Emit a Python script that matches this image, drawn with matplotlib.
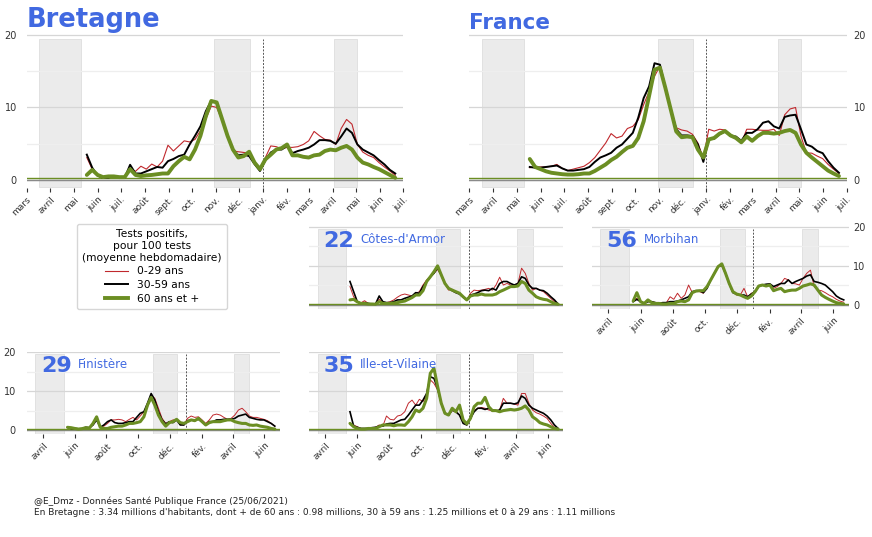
"""Taux de positivité par classe d'âge - Bretagne, France et départements bretons."""

import matplotlib

matplotlib.use("Agg")

import pandas as pd  # noqa: E402
from matplotlib import pyplot as plt  # noqa: E402
from matplotlib.lines import Line2D  # noqa: E402

# semaines (moyenne glissante lue toutes les 7 jours)
weeks = pd.date_range("2020-05-18", periods=58, freq="7D")

bretagne_0_29 = [3.1, 1.5, 0.6, 0.3, 0.35, 0.55, 0.4, 0.3, 1.5, 1.2, 1.9, 1.5, 2.2, 1.8, 2.6, 4.8, 4.0, 4.7, 5.4, 5.25,
                 5.6, 6.8, 8.4, 10.2, 10.0, 8.2, 6.1, 4.0, 3.9, 3.8, 3.7, 2.3, 1.3, 3.1, 4.7, 4.6, 4.3, 4.5, 4.5, 4.6,
                 4.9, 5.4, 6.7, 6.1, 5.6, 5.5, 4.9, 7.1, 8.35, 7.7, 4.9, 3.85, 3.4, 3.1, 2.4, 1.8, 1.25, 0.65]
bretagne_30_59 = [3.5, 1.7, 0.6, 0.3, 0.35, 0.55, 0.4, 0.3, 2.1, 0.9, 0.9, 1.2, 1.5, 1.8, 1.7, 2.6, 2.9, 3.3, 3.5, 4.9,
                  6.1, 7.4, 9.5, 10.9, 10.7, 8.4, 6.1, 4.2, 3.4, 3.5, 3.3, 2.2, 1.25, 2.75, 3.8, 4.2, 4.2, 4.7, 3.7, 4.0,
                  4.2, 4.45, 4.9, 5.5, 5.5, 5.4, 5.0, 6.0, 7.1, 6.5, 4.9, 4.2, 3.8, 3.4, 2.75, 2.15, 1.4, 0.9]
bretagne_60 = [0.7, 1.4, 0.7, 0.4, 0.5, 0.5, 0.4, 0.4, 1.5, 0.7, 0.55, 0.65, 0.7, 0.8, 0.9, 0.9, 1.9, 2.6, 3.2, 2.85,
               4.2, 6.1, 8.8, 10.9, 10.7, 8.4, 6.1, 4.2, 3.1, 3.3, 3.9, 2.4, 1.5, 2.85, 3.5, 4.2, 4.4, 4.9, 3.4, 3.4,
               3.2, 3.1, 3.4, 3.5, 4.0, 4.2, 4.1, 4.45, 4.7, 4.2, 3.1, 2.4, 2.15, 1.8, 1.5, 1.1, 0.7, 0.3]

france_0_29 = [1.7, 1.8, 1.8, 1.8, 1.9, 2.15, 1.6, 1.3, 1.5, 1.7, 1.9, 2.4, 3.1, 4.1, 5.1, 6.4, 5.8, 6.05, 7.1, 7.4,
               8.3, 10.4, 12.2, 14.3, 15.7, 12.5, 9.9, 7.2, 6.9, 6.75, 6.3, 5.1, 3.0, 7.0, 6.75, 7.0, 6.9, 6.3, 5.8, 5.1,
               7.0, 7.0, 6.9, 6.85, 6.85, 7.0, 6.15, 9.0, 9.8, 10.0, 6.05, 3.75, 3.7, 3.3, 2.95, 2.15, 1.5, 0.9]
france_30_59 = [1.8, 1.7, 1.7, 1.8, 1.9, 2.0, 1.6, 1.3, 1.3, 1.4, 1.5, 1.8, 2.5, 3.1, 3.4, 3.75, 4.45, 4.9, 5.7, 6.5,
                8.6, 11.3, 12.9, 16.1, 15.9, 12.7, 9.7, 7.0, 6.15, 6.15, 6.05, 4.9, 2.5, 5.6, 5.7, 6.3, 6.75, 6.05, 6.0,
                5.4, 6.5, 6.5, 7.0, 7.9, 8.1, 7.4, 7.1, 8.7, 8.9, 9.0, 7.0, 4.9, 4.6, 4.0, 3.7, 2.6, 1.7, 1.0]
france_60 = [2.9, 1.8, 1.5, 1.2, 1.0, 0.9, 0.8, 0.75, 0.75, 0.8, 0.9, 0.9, 1.25, 1.7, 2.15, 2.75, 3.2, 3.85, 4.45, 4.7,
             5.8, 8.1, 11.6, 15.2, 15.5, 12.7, 9.7, 6.7, 5.9, 6.0, 5.9, 4.2, 3.1, 5.6, 5.8, 6.4, 6.75, 6.15, 5.8, 5.2,
             6.0, 5.4, 6.05, 6.5, 6.5, 6.4, 6.5, 6.75, 6.9, 6.5, 4.9, 3.75, 3.1, 2.5, 1.9, 1.3, 0.9, 0.55]

dep22_0_29 = [4.7, 2.1, 0.85, 0.55, 1.1, 0.4, 0.3, 0.25, 1.45, 0.55, 0.6, 0.85, 1.3, 2.0, 2.55, 2.8, 2.55, 2.3, 3.0, 3.4,
              5.1, 6.4, 7.2, 8.1, 9.1, 7.5, 5.5, 3.8, 4.0, 3.4, 3.0, 2.0, 1.3, 3.0, 3.8, 3.65, 3.8, 4.0, 4.25, 3.8,
              5.1, 7.1, 5.1, 5.5, 5.1, 5.1, 5.5, 9.4, 8.1, 5.5, 3.8, 4.25, 3.8, 3.4, 2.55, 1.7, 0.85, 0.25]
dep22_30_59 = [6.0, 3.4, 0.85, 0.4, 0.6, 0.4, 0.25, 0.25, 2.3, 0.85, 0.6, 0.6, 0.85, 1.3, 1.3, 1.7, 2.0, 2.3, 3.15, 3.0,
               4.7, 6.0, 7.2, 8.1, 9.5, 7.7, 5.5, 4.25, 3.65, 3.15, 2.8, 2.0, 1.3, 2.55, 2.8, 3.15, 3.65, 3.8, 3.65,
               4.25, 3.8, 5.5, 6.0, 6.0, 5.5, 5.1, 5.5, 7.2, 6.8, 5.1, 4.25, 4.25, 3.8, 3.65, 3.0, 2.1, 1.3, 0.25]
dep22_60 = [1.3, 1.45, 0.8, 0.4, 0.4, 0.25, 0.25, 0.2, 0.85, 0.4, 0.4, 0.4, 0.5, 0.6, 0.85, 1.0, 1.45, 1.9, 2.55, 2.55,
            3.65, 6.0, 7.2, 8.5, 10.0, 7.7, 5.5, 4.25, 3.8, 3.4, 3.0, 2.1, 1.3, 2.3, 2.55, 2.55, 2.8, 2.55, 2.55, 2.55,
            2.8, 3.4, 3.8, 4.25, 4.7, 4.7, 4.85, 6.0, 5.5, 3.8, 3.0, 2.1, 1.7, 1.45, 1.3, 0.85, 0.4, 0.2]

dep56_0_29 = [1.0, 1.7, 0.85, 0.4, 1.1, 0.85, 0.6, 0.4, 0.6, 0.6, 2.1, 1.45, 3.0, 1.7, 2.55, 5.1, 3.15, 3.65, 3.4, 3.0,
              4.7, 6.4, 8.1, 9.8, 10.0, 8.1, 5.5, 3.4, 2.55, 2.55, 4.25, 2.1, 3.0, 3.4, 4.85, 5.1, 5.1, 5.1, 4.25, 4.7,
              5.5, 6.8, 6.4, 5.5, 5.4, 5.1, 6.8, 8.1, 8.9, 4.7, 3.8, 3.65, 3.15, 2.55, 2.1, 1.45, 1.0, 0.7]
dep56_30_59 = [0.85, 1.45, 0.85, 0.4, 0.85, 0.85, 0.6, 0.4, 0.6, 0.6, 0.85, 0.85, 1.0, 1.3, 1.7, 2.1, 3.4, 3.65, 3.65,
               3.15, 4.25, 6.4, 8.1, 9.8, 10.2, 8.1, 5.5, 3.15, 2.8, 2.55, 2.55, 2.1, 2.8, 3.4, 4.85, 5.1, 5.3, 5.4,
               4.7, 5.1, 5.5, 5.5, 6.4, 5.5, 6.0, 6.4, 6.8, 7.4, 7.7, 6.0, 5.8, 5.5, 5.1, 4.25, 3.4, 2.3, 1.7, 1.3]
dep56_60 = [1.0, 3.15, 0.85, 0.4, 1.3, 0.6, 0.4, 0.4, 0.25, 0.25, 0.4, 0.4, 0.85, 1.0, 0.85, 1.3, 3.15, 3.55, 3.65, 3.65,
            4.7, 6.4, 8.1, 9.8, 10.5, 8.1, 5.5, 3.4, 2.8, 2.55, 2.1, 1.7, 2.3, 3.4, 4.85, 5.1, 4.85, 5.1, 3.65, 4.0,
            4.25, 3.4, 3.65, 3.8, 3.8, 4.25, 4.85, 5.1, 5.4, 5.1, 3.8, 2.55, 1.95, 1.45, 1.0, 0.6, 0.4, 0.25]

dep29_0_29 = [0.7, 0.4, 0.4, 0.3, 0.35, 0.7, 0.6, 1.3, 3.0, 0.85, 1.0, 1.7, 2.6, 2.6, 2.75, 2.6, 2.15, 2.75, 3.25, 2.6,
              3.6, 4.7, 6.0, 9.0, 8.15, 5.6, 3.0, 1.7, 2.15, 2.6, 2.6, 1.55, 1.3, 3.0, 3.6, 3.25, 3.4, 2.6, 1.7, 2.6,
              3.85, 4.1, 3.85, 3.25, 2.75, 3.0, 3.85, 5.15, 5.6, 4.7, 3.6, 3.25, 3.25, 3.0, 2.75, 2.4, 1.7, 1.0]
dep29_30_59 = [0.7, 0.4, 0.4, 0.3, 0.35, 0.7, 0.6, 1.3, 2.6, 0.7, 1.3, 2.15, 2.6, 1.9, 1.7, 1.7, 1.9, 2.15, 2.15, 3.25,
               4.3, 4.7, 6.9, 9.4, 7.7, 4.7, 2.6, 1.55, 2.15, 1.9, 2.6, 1.3, 1.3, 2.4, 2.6, 2.6, 2.75, 2.15, 1.3, 2.15,
               2.15, 2.6, 2.6, 2.75, 2.75, 2.75, 3.0, 3.6, 3.85, 4.1, 3.25, 3.0, 2.75, 2.6, 2.6, 2.15, 1.7, 1.0]
dep29_60 = [0.7, 0.6, 0.4, 0.25, 0.35, 0.6, 0.5, 1.7, 3.4, 0.7, 0.4, 0.4, 0.7, 0.85, 1.0, 1.0, 1.3, 1.7, 1.7, 1.9,
            2.15, 3.4, 6.4, 8.4, 6.4, 3.85, 2.15, 1.0, 1.9, 2.15, 2.75, 1.9, 1.7, 2.15, 2.6, 2.4, 3.0, 2.15, 1.3, 1.9,
            2.15, 2.15, 2.15, 2.4, 2.6, 2.6, 2.15, 1.9, 1.7, 1.7, 1.3, 1.2, 1.3, 1.0, 0.85, 0.7, 0.4, 0.25]

dep35_0_29 = [1.7, 1.3, 0.85, 0.4, 0.4, 0.4, 0.6, 0.7, 1.3, 1.0, 3.6, 2.75, 2.6, 3.6, 3.85, 4.7, 6.9, 7.7, 6.4, 7.9,
              7.3, 9.0, 12.9, 12.0, 10.3, 6.9, 4.5, 3.85, 5.0, 4.7, 3.85, 1.9, 1.3, 3.0, 5.0, 5.6, 5.8, 5.6, 5.15, 4.9,
              4.9, 5.15, 8.15, 6.9, 6.9, 6.7, 6.4, 9.4, 9.4, 6.9, 5.15, 4.45, 4.1, 3.6, 3.0, 1.7, 0.7, 0.25]
dep35_30_59 = [4.7, 1.0, 0.7, 0.4, 0.4, 0.4, 0.6, 0.7, 1.0, 1.0, 1.55, 1.7, 1.7, 2.15, 2.6, 2.75, 3.85, 5.15, 6.4, 6.4,
               7.7, 9.4, 13.7, 13.3, 10.7, 6.9, 4.3, 3.85, 5.15, 4.7, 3.85, 1.7, 1.3, 3.0, 4.7, 5.6, 5.6, 5.3, 5.6,
               5.15, 4.9, 5.15, 6.9, 6.9, 6.9, 6.7, 7.0, 8.75, 8.15, 6.4, 5.6, 5.15, 4.7, 4.3, 3.6, 2.6, 1.3, 0.4]
dep35_60 = [1.7, 0.85, 0.4, 0.25, 0.25, 0.4, 0.4, 0.4, 0.85, 1.3, 1.3, 1.3, 1.1, 1.3, 1.3, 1.2, 2.15, 3.4, 5.15, 4.7,
            5.6, 8.15, 14.6, 15.9, 11.2, 6.9, 4.3, 3.85, 5.6, 4.7, 6.4, 2.6, 1.6, 3.0, 6.0, 6.9, 6.9, 8.4, 6.0, 5.0,
            5.0, 4.7, 5.0, 5.15, 5.3, 5.15, 5.3, 5.6, 6.2, 5.15, 3.4, 2.75, 1.9, 1.55, 1.3, 0.85, 0.4, 0.25]

# confinements et repère du 1er janvier
confinements = [("2020-03-17", "2020-05-11"), ("2020-10-30", "2020-12-15"), ("2021-04-03", "2021-05-03")]
new_year = "2021-01-01"

month_ticks = pd.date_range("2020-03-01", "2021-07-01", freq="MS")
month_labels = ["mars", "avril", "mai", "juin", "juil.", "août", "sept.", "oct.", "nov.", "déc.",
                "janv.", "fév.", "mars", "avril", "mai", "juin", "juil."]
dep_ticks = pd.date_range("2020-04-01", "2021-06-01", freq="2MS")
dep_labels = ["avril", "juin", "août", "oct.", "déc.", "fév.", "avril", "juin"]

FIG_W, FIG_H = 872, 537
BLUE = "#4169e1"
RED = "#c0282d"
GREEN = "#6b8e23"
Y_LOW, Y_HIGH = -1.1, 20.2


def _rect(left: float, top: float, right: float, bottom: float) -> list[float]:
    return [left / FIG_W, 1 - bottom / FIG_H, (right - left) / FIG_W, (bottom - top) / FIG_H]


def _frac(value: float) -> float:
    return (value - Y_LOW) / (Y_HIGH - Y_LOW)


def _panel(fig, rect, series, big=True, ylab=None, ticks=None, labels=None):
    ax = fig.add_axes(rect)
    ax.set_xlim(pd.Timestamp("2020-03-01"), pd.Timestamp("2021-07-01"))
    ax.set_ylim(Y_LOW, Y_HIGH)
    for start, end in confinements:
        ax.axvspan(pd.Timestamp(start), pd.Timestamp(end), ymin=_frac(-1), ymax=_frac(19.5),
                   facecolor="#ebebeb", edgecolor="#dedede", lw=0.6, zorder=0)
    ax.axvline(pd.Timestamp(new_year), ymin=_frac(-1), ymax=_frac(19.5), color="#555555",
               lw=0.7, ls=(0, (2, 1.5)), zorder=1)
    ax.axhline(0, color="#8a8a8a", lw=1.0, zorder=1.5)
    ax.axhline(0.3, color=GREEN, lw=1.0, zorder=1.6)

    widths = (0.8, 1.4, 2.8) if big else (0.7, 1.2, 2.2)
    red, black, green = series
    ax.plot(weeks, red, color=RED, lw=widths[0], zorder=3)
    ax.plot(weeks, black, color="black", lw=widths[1], zorder=4)
    ax.plot(weeks, green, color=GREEN, lw=widths[2], zorder=5, solid_capstyle="round")

    ax.set_yticks([0, 10, 20])
    ax.set_yticks([5, 15], minor=True)
    ax.grid(axis="y", which="major", color="#d6d6d6", lw=0.9, zorder=0)
    ax.grid(axis="y", which="minor", color="#eeeeee", lw=0.9, zorder=0)
    ax.set_axisbelow(True)
    for spine in ax.spines.values():
        spine.set_visible(False)
    ax.tick_params(axis="y", which="both", length=0, labelsize=7, labelcolor="#333333")
    if ylab == "left":
        ax.tick_params(axis="y", pad=7 if big else 8)
    elif ylab == "right":
        ax.yaxis.tick_right()
        ax.tick_params(axis="y", pad=5 if big else 3)
    else:
        ax.tick_params(axis="y", labelleft=False)

    if ticks is None:
        ax.set_xticks([])
    else:
        ax.set_xticks(ticks)
        ax.set_xticklabels(labels, rotation=45, ha="right", rotation_mode="anchor", fontsize=6.5,
                           color="#333333")
        ax.tick_params(axis="x", length=3, width=0.8, color="#333333", pad=2)
    return ax


def _dep_title(ax, number: str, name: str) -> None:
    ax.text(0.055, 0.75, number, transform=ax.transAxes, fontsize=16, weight="bold", color=BLUE,
            va="baseline", zorder=6)
    ax.text(0.2, 0.8, name, transform=ax.transAxes, fontsize=8.5, color=BLUE, va="baseline", zorder=6)


fig = plt.figure(figsize=(FIG_W / 100, FIG_H / 100), dpi=100)

ax_bzh = _panel(fig, _rect(26.5, 33.5, 403, 188), (bretagne_0_29, bretagne_30_59, bretagne_60),
                ylab="left", ticks=month_ticks, labels=month_labels)
ax_bzh.text(0, 1.042, "Bretagne", transform=ax_bzh.transAxes, fontsize=18.5, weight="bold", color=BLUE,
            va="baseline")

ax_fr = _panel(fig, _rect(469.3, 33.5, 846.7, 188), (france_0_29, france_30_59, france_60),
               ylab="right", ticks=month_ticks, labels=month_labels)
ax_fr.text(0, 1.027, "France", transform=ax_fr.transAxes, fontsize=15.5, weight="bold", color=BLUE,
           va="baseline")

ax22 = _panel(fig, _rect(309.3, 225.9, 563.3, 309.3), (dep22_0_29, dep22_30_59, dep22_60), big=False)
_dep_title(ax22, "22", "Côtes-d'Armor")
ax56 = _panel(fig, _rect(592, 225.9, 849, 309.3), (dep56_0_29, dep56_30_59, dep56_60), big=False,
              ylab="right", ticks=dep_ticks, labels=dep_labels)
_dep_title(ax56, "56", "Morbihan")
ax29 = _panel(fig, _rect(27, 351.5, 280, 434.3), (dep29_0_29, dep29_30_59, dep29_60), big=False,
              ylab="left", ticks=dep_ticks, labels=dep_labels)
_dep_title(ax29, "29", "Finistère")
ax35 = _panel(fig, _rect(309.3, 351.5, 563.3, 434.3), (dep35_0_29, dep35_30_59, dep35_60), big=False,
              ticks=dep_ticks, labels=dep_labels)
_dep_title(ax35, "35", "Ille-et-Vilaine")

handles = [
    Line2D([], [], color=RED, lw=0.8),
    Line2D([], [], color="black", lw=1.4),
    Line2D([], [], color=GREEN, lw=2.8),
]
legend = fig.legend(handles, ["0-29 ans", "30-59 ans", "60 ans et +"],
                    title="Tests positifs,\npour 100 tests\n(moyenne hebdomadaire)",
                    loc="upper left", bbox_to_anchor=(77 / FIG_W, 1 - 224 / FIG_H), borderaxespad=0,
                    fontsize=7.7, title_fontsize=7.7, handlelength=2.2, labelspacing=0.35,
                    frameon=True, edgecolor="#cccccc", fancybox=True, borderpad=0.5)
legend.get_title().set_multialignment("center")

fig.text(34 / FIG_W, 1 - 497 / FIG_H,
         "@E_Dmz - Données Santé Publique France (25/06/2021)\n"
         "En Bretagne : 3.34 millions d'habitants, dont + de 60 ans : 0.98 millions, "
         "30 à 59 ans : 1.25 millions et 0 à 29 ans : 1.11 millions",
         fontsize=6.5, family="DejaVu Sans", va="top", color="#222222", linespacing=1.2)

fig.savefig("out.png", dpi=100)
